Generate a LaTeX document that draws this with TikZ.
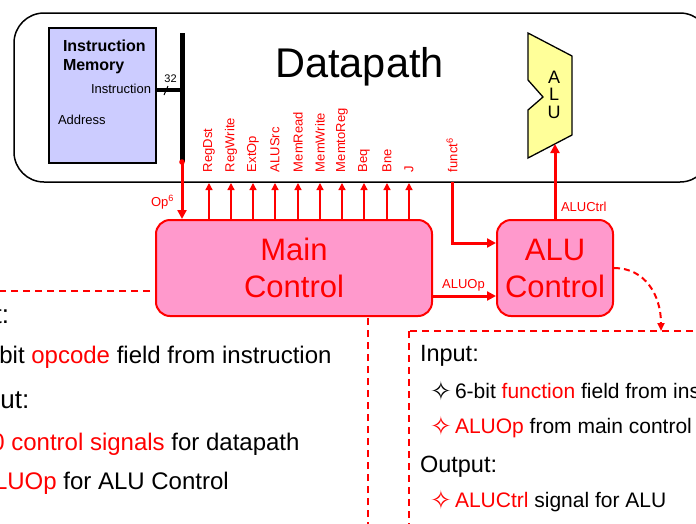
\documentclass[tikz,border=0pt]{standalone}
\usepackage{fontspec}
\setmainfont{Liberation Sans}
\newfontfamily\symf{DejaVu Sans}
\usetikzlibrary{arrows.meta}
\definecolor{myred}{RGB}{255,0,0}
\definecolor{pinkfill}{RGB}{255,153,204}
\definecolor{lavender}{RGB}{204,204,255}
\definecolor{aluyellow}{RGB}{255,255,153}
\newcommand\fszb[2]{\fontsize{#1}{#2}\selectfont}
\begin{document}
\begin{tikzpicture}[x=1pt,y=-1pt,
  txt/.style={inner sep=0pt, outer sep=0pt},
  ctrlbox/.style={draw=myred, line width=2pt, fill=pinkfill, rounded corners=14pt, text=myred, align=center, inner sep=0pt, font=\fszb{31}{37}},
  sig/.style={myred, line width=1.3pt, -{Triangle[length=7pt,width=7pt]}},
  bus/.style={myred, line width=3pt, -{Triangle[length=9pt,width=9pt]}},
  siglabel/.style={txt, rotate=90, anchor=west, text=myred, font=\fszb{13}{13}},
  dbox/.style={draw=myred, line width=1.5pt, dash pattern=on 7pt off 5pt},
  redlab/.style={txt, text=myred, font=\fszb{13}{13}},
  lhead/.style={txt, anchor=base west, font=\fszb{26}{26}},
  litem/.style={txt, anchor=base west, font=\fszb{24}{24}},
  lsym/.style={txt, anchor=center, font=\symf\fszb{29}{29}},
  rhead/.style={txt, anchor=base west, font=\fszb{23.5}{23.5}},
  ritem/.style={txt, anchor=base west, font=\fszb{21}{21}},
  rsym/.style={txt, anchor=center, font=\symf\fszb{26}{26}},
  ]
\useasboundingbox (0,0) rectangle (696,523);
\clip (0,0) rectangle (696,523);

% Datapath frame
\node[draw, line width=1.5pt, rounded corners=30pt, minimum width=696pt, minimum height=169pt, inner sep=0pt] (dp) at (362,97.5) {};
\node[txt, anchor=base, font=\fszb{41.5}{41.5}] (dptitle) at (359.5,77) {Datapath};

% Instruction memory
\node[draw, fill=lavender, line width=1.3pt, minimum width=107pt, minimum height=135pt, inner sep=0pt] (imem) at (102.5,95.5) {};
\node[txt, anchor=base west, font=\bfseries\fszb{16}{16}] (imT1) at (63,51) {Instruction};
\node[txt, anchor=base west, font=\bfseries\fszb{16}{16}] (imT2) at (63,70) {Memory};
\node[txt, anchor=base east, font=\fszb{13}{13}] (imInstr) at (151,93) {Instruction};
\node[txt, anchor=base west, font=\fszb{13}{13}] (imAddr) at (58,124) {Address};

% bus
\coordinate (busTop) at (182,33);
\coordinate (busBot) at (182,162);
\draw[line width=5pt] (busTop) -- (busBot);
\draw[line width=4pt] (imem.east |- 0,90) -- (busTop |- 0,90);
\draw[line width=1pt] (164,95) -- (168,86);
\node[txt, anchor=base, font=\fszb{11}{11}] (w32) at (170.5,82) {32};

% ALU
\draw[fill=aluyellow, line width=1.3pt] (528,33) -- (572,56) -- (572,135) -- (528,158) -- (528,110) -- (543,97) -- (528,80) -- cycle;
\coordinate (aluIn) at (555,144);
\node[txt, anchor=base, font=\fszb{18}{18}] (aluA) at (554,83) {A};
\node[txt, anchor=base, font=\fszb{18}{18}] (aluL) at (554,100) {L};
\node[txt, anchor=base, font=\fszb{18}{18}] (aluU) at (554,118) {U};

% dashed description boxes
\draw[dbox] (-80,291) rectangle (368,540);
\draw[dbox] (409,331) rectangle (720,540);

% left text
\node[lhead] (lIn) at (-56,323) {Input:};
\node[lsym] (lS1) at (-38,355) {✧};
\node[litem] (lI1) at (-22,363) {6-bit \textcolor{myred}{opcode} field from instruction};
\node[lhead] (lOut) at (-56,408) {Output:};
\node[lsym, text=myred] (lS2) at (-38,442) {✧};
\node[litem] (lI2) at (-22,450) {\textcolor{myred}{10 control signals} for datapath};
\node[lsym, text=myred] (lS3) at (-38,481) {✧};
\node[litem] (lI3) at (-22,489) {\textcolor{myred}{ALUOp} for ALU Control};

% right text
\node[rhead] (rIn) at (420,361) {Input:};
\node[rsym] (rS1) at (441,390.5) {✧};
\node[ritem] (rI1) at (455,398) {6-bit \textcolor{myred}{function} field from instruction};
\node[rsym, text=myred] (rS2) at (441,426) {✧};
\node[ritem] (rI2) at (455,433.5) {\textcolor{myred}{ALUOp} from main control};
\node[rhead] (rOut) at (420,472) {Output:};
\node[rsym, text=myred] (rS3) at (441,499.5) {✧};
\node[ritem] (rI3) at (455,507) {\textcolor{myred}{ALUCtrl} signal for ALU};

% control boxes
\node[ctrlbox, minimum width=276pt, minimum height=96pt] (main) at (294,268) {Main\\Control};
\node[ctrlbox, minimum width=116pt, minimum height=96pt] (aluctl) at (555,268) {ALU\\Control};

% Op
\fill[myred] (busBot) circle (2.8pt);
\draw[bus] (busBot) -- (busBot |- main.north);
\node[redlab, anchor=base east] (opL) at (174,206) {Op\textsuperscript{6}};

% control signals
\foreach \x/\nm [count=\i] in {209/RegDst,231/RegWrite,253/ExtOp,275/ALUSrc,298/MemRead,320/MemWrite,342/MemtoReg,364/Beq,387/Bne,409/J}{
  \coordinate (sigTop\i) at (\x,183);
  \draw[sig] (main.north -| sigTop\i) -- (sigTop\i);
  \node[siglabel] (sigL\i) at (\x,172) {\nm};
}

% funct
\coordinate (functTop) at (452,182);
\node[siglabel] (functL) at (452,172) {funct\textsuperscript{6}};
\draw[bus] (functTop) |- ([yshift=25pt]aluctl.west);

% ALUOp
\draw[bus] ([yshift=-28pt]main.east) -- ([yshift=-28pt]aluctl.west);
\node[redlab, anchor=base] (aluopL) at (463.5,288) {ALUOp};

% ALUCtrl
\draw[bus] (aluctl.north) -- (aluIn);
\node[redlab, anchor=base west] (aluctrlL) at (561,211) {ALUCtrl};

% curved dashed arrow
\coordinate (rboxTop) at (661,331);
\draw[myred, line width=2pt, dash pattern=on 6pt off 4pt, -{Triangle[length=8pt,width=7pt]}] (aluctl.east) .. controls (645,268) and (661,295) .. (rboxTop);
\end{tikzpicture}
\end{document}
